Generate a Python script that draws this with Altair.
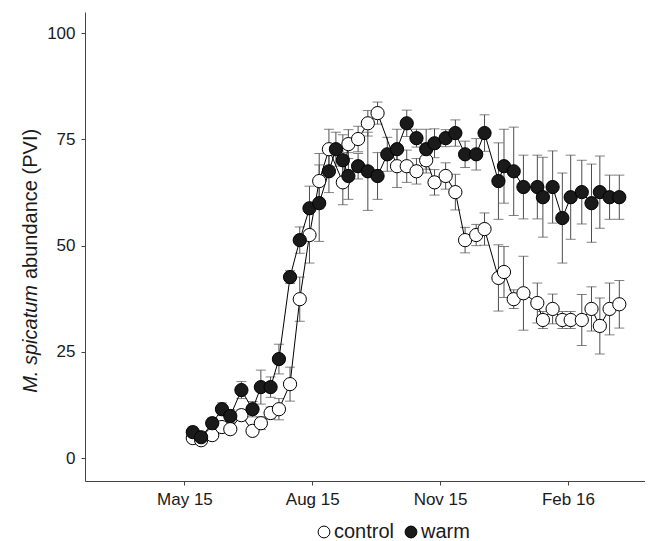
import pandas as pd
import altair as alt

# weekly survey dates, warm tanks
warm_dates = ["2015-05-07", "2015-05-13", "2015-05-21", "2015-05-28", "2015-06-03",
              "2015-06-11", "2015-06-19", "2015-06-25", "2015-07-02", "2015-07-08",
              "2015-07-16", "2015-07-23", "2015-07-30", "2015-08-06", "2015-08-13",
              "2015-08-18", "2015-08-23", "2015-08-27", "2015-09-03", "2015-09-10",
              "2015-09-17", "2015-09-24", "2015-10-01", "2015-10-08", "2015-10-15",
              "2015-10-22", "2015-10-28", "2015-11-05", "2015-11-12", "2015-11-19",
              "2015-11-27", "2015-12-03", "2015-12-13", "2015-12-17", "2015-12-24",
              "2015-12-31", "2016-01-10", "2016-01-14", "2016-01-21", "2016-01-28",
              "2016-02-03", "2016-02-11", "2016-02-18", "2016-02-24", "2016-03-02",
              "2016-03-09"]
warm_pvi = [6.1, 4.9, 8.2, 11.5, 9.9, 16.0, 11.5, 16.7, 16.7, 23.3,
            42.6, 51.3, 58.8, 60.0, 67.5, 72.7, 70.1, 66.4, 68.7, 67.5,
            66.4, 71.5, 72.7, 78.8, 75.3, 72.7, 74.1, 75.3, 76.5, 71.5,
            71.5, 76.5, 65.2, 68.7, 67.5, 63.8, 63.8, 61.4, 63.8, 56.5,
            61.4, 62.6, 60.0, 62.6, 61.4, 61.4]
warm_se = [1.2, 1.0, 1.2, 1.5, 1.5, 2.0, 1.8, 4.0, 2.4, 3.5,
           1.5, 3.1, 5.2, 9.0, 5.0, 4.0, 6.0, 5.5, 3.0, 9.2,
           5.5, 4.0, 4.7, 3.1, 2.1, 4.7, 3.4, 2.0, 3.1, 3.1,
           3.7, 4.3, 9.0, 8.7, 10.4, 7.5, 7.5, 9.4, 8.5, 10.6,
           9.9, 7.5, 9.2, 8.5, 5.2, 5.2]

# control tanks
control_dates = ["2015-05-07", "2015-05-13", "2015-05-21", "2015-05-28", "2015-06-03",
                 "2015-06-11", "2015-06-19", "2015-06-25", "2015-07-02", "2015-07-08",
                 "2015-07-16", "2015-07-23", "2015-07-30", "2015-08-06", "2015-08-13",
                 "2015-08-23", "2015-08-27", "2015-09-03", "2015-09-10", "2015-09-17",
                 "2015-10-01", "2015-10-08", "2015-10-15", "2015-10-22", "2015-10-28",
                 "2015-11-05", "2015-11-12", "2015-11-19", "2015-11-27", "2015-12-03",
                 "2015-12-13", "2015-12-17", "2015-12-24", "2015-12-31", "2016-01-10",
                 "2016-01-14", "2016-01-21", "2016-01-28", "2016-02-03", "2016-02-11",
                 "2016-02-18", "2016-02-24", "2016-03-02", "2016-03-09"]
control_pvi = [4.7, 4.2, 5.4, 7.3, 6.8, 10.1, 6.4, 8.2, 10.6, 11.5,
               17.4, 37.4, 52.5, 65.2, 72.7, 64.9, 73.9, 75.1, 78.8, 81.2,
               68.7, 68.7, 67.5, 70.1, 64.9, 66.4, 62.6, 51.3, 52.5, 53.9,
               42.4, 43.8, 37.4, 38.8, 36.5, 32.5, 35.1, 32.5, 32.5, 32.5,
               35.1, 31.1, 35.1, 36.2]
control_se = [1.0, 1.0, 1.0, 1.0, 1.0, 1.2, 1.0, 1.5, 1.4, 2.5,
              4.0, 5.2, 6.6, 6.5, 4.7, 5.3, 3.4, 3.0, 3.0, 2.6,
              5.0, 3.8, 3.0, 3.0, 3.0, 3.1, 4.2, 3.0, 2.5, 3.8,
              7.8, 6.0, 2.2, 8.7, 4.7, 2.0, 3.5, 2.0, 2.0, 6.0,
              5.2, 6.6, 6.1, 5.6]

treatments = ["control", "warm"]
y_ticks = [0, 25, 50, 75, 100]
y_title_italic = "M. spicatum"
y_title_rest = "abundance (PVI)"
FONT = "Liberation Sans"


def make_frame(dates, pvi, se, group):
    df = pd.DataFrame({"date": dates, "pvi": pvi, "se": se})
    df["lo"] = df["pvi"] - df["se"]
    df["hi"] = df["pvi"] + df["se"]
    df["treatment"] = group
    return df


df = pd.concat([make_frame(control_dates, control_pvi, control_se, "control"),
                make_frame(warm_dates, warm_pvi, warm_se, "warm")])

x_scale = alt.Scale(type="utc", domain=[alt.DateTime(year=2015, month=2, date=18, hours=10, utc=True),
                                        alt.DateTime(year=2016, month=3, date=27, hours=12, utc=True)])
x_axis = alt.Axis(values=[alt.DateTime(year=2015, month=5, date=1, utc=True),
                          alt.DateTime(year=2015, month=8, date=1, utc=True),
                          alt.DateTime(year=2015, month=11, date=1, utc=True),
                          alt.DateTime(year=2016, month=2, date=1, utc=True)],
                  labelExpr="utcFormat(datum.value, '%b %y')", grid=False,
                  tickSize=4, labelPadding=6, title=None)
x_enc = alt.X("date:T", scale=x_scale, axis=x_axis)

y_scale = alt.Scale(domain=[-5.4, 105], nice=False, zero=False)
y_axis = alt.Axis(values=y_ticks, grid=False, tickSize=4, labelPadding=6, title=None)

#error bars and caps
bars = alt.Chart(df).mark_rule(color="#4d4d4d", strokeWidth=1).encode(
    x_enc,
    alt.Y("lo:Q", scale=y_scale, axis=y_axis),
    alt.Y2("hi:Q")
)
caps_lo = alt.Chart(df).mark_tick(color="#4d4d4d", size=10, thickness=1, orient="horizontal").encode(
    x_enc, alt.Y("lo:Q")
)
caps_hi = alt.Chart(df).mark_tick(color="#4d4d4d", size=10, thickness=1, orient="horizontal").encode(
    x_enc, alt.Y("hi:Q")
)

#connecting lines
lines = alt.Chart(df).mark_line(color="black", strokeWidth=1).encode(
    x_enc, alt.Y("pvi:Q"), detail="treatment:N"
)

#points, warm drawn over control
points = alt.Chart(df).mark_point(filled=True, size=175, stroke="black", strokeWidth=1, opacity=1).encode(
    x_enc,
    alt.Y("pvi:Q"),
    alt.Fill("treatment:N", scale=alt.Scale(domain=treatments, range=["white", "#1a1a1a"]),
             legend=alt.Legend(orient="none", legendX=229, legendY=510, direction="horizontal",
                               title=None, symbolType="circle", symbolSize=140,
                               symbolStrokeColor="black", symbolStrokeWidth=1,
                               labelFontSize=20, labelFont=FONT, labelColor="#1a1a1a",
                               labelOffset=0, columnPadding=6))
)

#y axis title, italic species name + plain rest
title_a = alt.Chart(pd.DataFrame({"t": [y_title_italic]})).mark_text(
    angle=270, align="right", baseline="middle", font=FONT, fontSize=20, fontStyle="italic", color="#1a1a1a"
).encode(text="t:N", x=alt.value(-54), y=alt.value(273))
title_b = alt.Chart(pd.DataFrame({"t": [y_title_rest]})).mark_text(
    angle=270, align="left", baseline="middle", font=FONT, fontSize=20, color="#1a1a1a"
).encode(text="t:N", x=alt.value(-54), y=alt.value(267))

chart = (bars + caps_lo + caps_hi + lines + points + title_a + title_b).properties(
    width=560, height=469,
    autosize=alt.AutoSizeParams(type="none"),
    padding={"left": 77, "top": 4, "right": 0, "bottom": 60}
).configure_axis(
    labelFont=FONT, labelFontSize=17, labelColor="#1a1a1a",
    domainColor="#444444", tickColor="#444444"
).configure_view(stroke="transparent")

chart.save("out.html", embed_options={"renderer": "svg", "actions": False})
